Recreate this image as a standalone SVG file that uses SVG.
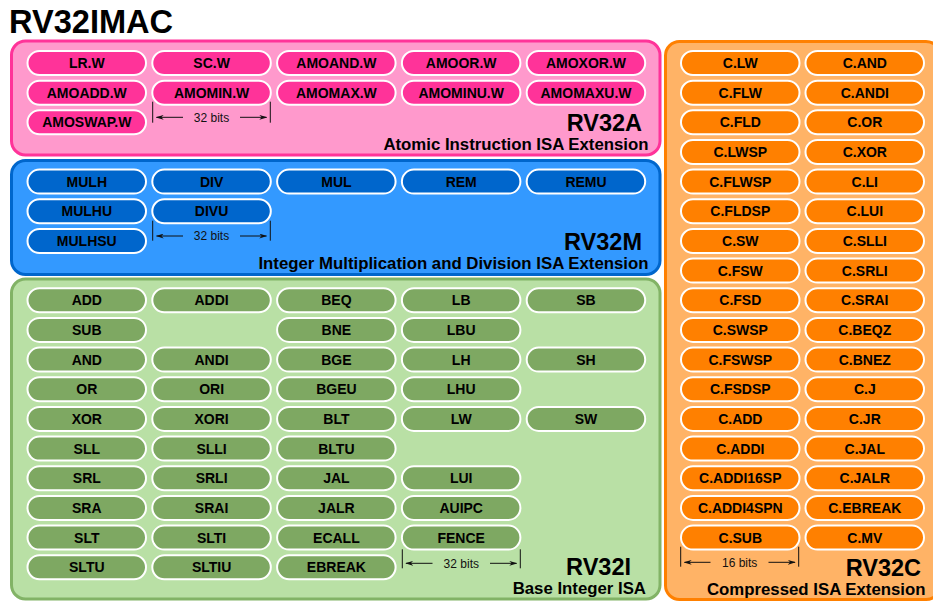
<svg xmlns="http://www.w3.org/2000/svg" width="933" height="602" viewBox="0 0 933 602">
  <defs>
    <style>
      .t { font-family: "Liberation Sans", Arial, sans-serif; font-weight: bold; font-size: 14px; text-anchor: middle; fill: #000; }
      .pill { stroke: #fff; stroke-width: 2; }
      .pa { fill: #ff3399; }
      .pm { fill: #0066cc; }
      .pi { fill: #7ea862; }
      .pc { fill: #ff8000; }
      .big { font-family: "Liberation Sans", Arial, sans-serif; font-weight: bold; font-size: 23.5px; text-anchor: end; fill: #000; }
      .sub { font-family: "Liberation Sans", Arial, sans-serif; font-weight: bold; font-size: 16.8px; text-anchor: end; fill: #000; }
      .bits { font-family: "Liberation Sans", Arial, sans-serif; font-size: 12px; text-anchor: middle; fill: #111; }
      .dim { stroke: #111; stroke-width: 1; fill: none; }
    </style>
    <marker id="ah" viewBox="0 0 10 6" refX="9" refY="3" markerWidth="8" markerHeight="5" markerUnits="userSpaceOnUse" orient="auto">
      <path d="M0,0 L10,3 L0,6 L3,3 z" fill="#111"/>
    </marker>
  </defs>

  <rect width="933" height="602" fill="#fff"/>

  <!-- title -->
  <text x="9" y="33" font-family="Liberation Sans, Arial, sans-serif" font-weight="bold" font-size="32.6">RV32IMAC</text>

  <!-- extension panels -->
  <g id="rv32a">
    <rect x="11.5" y="41" width="648.5" height="114" rx="14" fill="#ff99cc" stroke="#ff3399" stroke-width="3"/>
    <text class="big" x="642" y="131">RV32A</text>
    <text class="sub" x="648.5" y="149.5">Atomic Instruction ISA Extension</text>
  </g>
  <g id="rv32m">
    <rect x="11.5" y="160.5" width="648.5" height="114" rx="14" fill="#3399ff" stroke="#0066cc" stroke-width="3"/>
    <text class="big" x="642" y="250">RV32M</text>
    <text class="sub" x="648.5" y="269">Integer Multiplication and Division ISA Extension</text>
  </g>
  <g id="rv32i">
    <rect x="11.5" y="279" width="648.5" height="320" rx="14" fill="#b9e0a5" stroke="#82b366" stroke-width="3"/>
    <text class="big" x="631" y="575">RV32I</text>
    <text class="sub" x="646" y="594">Base Integer ISA</text>
  </g>
  <g id="rv32c">
    <rect x="665.5" y="41.5" width="274.5" height="558" rx="14" fill="#ffb366" stroke="#ff8000" stroke-width="3"/>
    <text class="big" x="921" y="576">RV32C</text>
    <text class="sub" x="925.5" y="595">Compressed ISA Extension</text>
  </g>

  <!-- RV32A instructions -->
  <g id="a-lr-w"><rect class="pill pa" x="27.5" y="51" width="118.5" height="24" rx="12"/><text class="t" x="86.8" y="68">LR.W</text></g>
  <g id="a-sc-w"><rect class="pill pa" x="152.3" y="51" width="118.5" height="24" rx="12"/><text class="t" x="211.6" y="68">SC.W</text></g>
  <g id="a-amoand-w"><rect class="pill pa" x="277.1" y="51" width="118.5" height="24" rx="12"/><text class="t" x="336.4" y="68">AMOAND.W</text></g>
  <g id="a-amoor-w"><rect class="pill pa" x="401.9" y="51" width="118.5" height="24" rx="12"/><text class="t" x="461.2" y="68">AMOOR.W</text></g>
  <g id="a-amoxor-w"><rect class="pill pa" x="526.7" y="51" width="118.5" height="24" rx="12"/><text class="t" x="586" y="68">AMOXOR.W</text></g>
  <g id="a-amoadd-w"><rect class="pill pa" x="27.5" y="80.7" width="118.5" height="24" rx="12"/><text class="t" x="86.8" y="97.7">AMOADD.W</text></g>
  <g id="a-amomin-w"><rect class="pill pa" x="152.3" y="80.7" width="118.5" height="24" rx="12"/><text class="t" x="211.6" y="97.7">AMOMIN.W</text></g>
  <g id="a-amomax-w"><rect class="pill pa" x="277.1" y="80.7" width="118.5" height="24" rx="12"/><text class="t" x="336.4" y="97.7">AMOMAX.W</text></g>
  <g id="a-amominu-w"><rect class="pill pa" x="401.9" y="80.7" width="118.5" height="24" rx="12"/><text class="t" x="461.2" y="97.7">AMOMINU.W</text></g>
  <g id="a-amomaxu-w"><rect class="pill pa" x="526.7" y="80.7" width="118.5" height="24" rx="12"/><text class="t" x="586" y="97.7">AMOMAXU.W</text></g>
  <g id="a-amoswap-w"><rect class="pill pa" x="27.5" y="110.3" width="118.5" height="24" rx="12"/><text class="t" x="86.8" y="127.3">AMOSWAP.W</text></g>

  <!-- RV32M instructions -->
  <g id="m-mulh"><rect class="pill pm" x="27.5" y="169.6" width="118.5" height="24" rx="12"/><text class="t" x="86.8" y="186.6">MULH</text></g>
  <g id="m-div"><rect class="pill pm" x="152.3" y="169.6" width="118.5" height="24" rx="12"/><text class="t" x="211.6" y="186.6">DIV</text></g>
  <g id="m-mul"><rect class="pill pm" x="277.1" y="169.6" width="118.5" height="24" rx="12"/><text class="t" x="336.4" y="186.6">MUL</text></g>
  <g id="m-rem"><rect class="pill pm" x="401.9" y="169.6" width="118.5" height="24" rx="12"/><text class="t" x="461.2" y="186.6">REM</text></g>
  <g id="m-remu"><rect class="pill pm" x="526.7" y="169.6" width="118.5" height="24" rx="12"/><text class="t" x="586" y="186.6">REMU</text></g>
  <g id="m-mulhu"><rect class="pill pm" x="27.5" y="199.3" width="118.5" height="24" rx="12"/><text class="t" x="86.8" y="216.3">MULHU</text></g>
  <g id="m-divu"><rect class="pill pm" x="152.3" y="199.3" width="118.5" height="24" rx="12"/><text class="t" x="211.6" y="216.3">DIVU</text></g>
  <g id="m-mulhsu"><rect class="pill pm" x="27.5" y="229" width="118.5" height="24" rx="12"/><text class="t" x="86.8" y="246">MULHSU</text></g>

  <!-- RV32I instructions -->
  <g id="i-add"><rect class="pill pi" x="27.5" y="288.3" width="118.5" height="24" rx="12"/><text class="t" x="86.8" y="305.3">ADD</text></g>
  <g id="i-addi"><rect class="pill pi" x="152.3" y="288.3" width="118.5" height="24" rx="12"/><text class="t" x="211.6" y="305.3">ADDI</text></g>
  <g id="i-beq"><rect class="pill pi" x="277.1" y="288.3" width="118.5" height="24" rx="12"/><text class="t" x="336.4" y="305.3">BEQ</text></g>
  <g id="i-lb"><rect class="pill pi" x="401.9" y="288.3" width="118.5" height="24" rx="12"/><text class="t" x="461.2" y="305.3">LB</text></g>
  <g id="i-sb"><rect class="pill pi" x="526.7" y="288.3" width="118.5" height="24" rx="12"/><text class="t" x="586" y="305.3">SB</text></g>

  <g id="i-sub"><rect class="pill pi" x="27.5" y="317.9" width="118.5" height="24" rx="12"/><text class="t" x="86.8" y="334.9">SUB</text></g>
  <g id="i-bne"><rect class="pill pi" x="277.1" y="317.9" width="118.5" height="24" rx="12"/><text class="t" x="336.4" y="334.9">BNE</text></g>
  <g id="i-lbu"><rect class="pill pi" x="401.9" y="317.9" width="118.5" height="24" rx="12"/><text class="t" x="461.2" y="334.9">LBU</text></g>

  <g id="i-and"><rect class="pill pi" x="27.5" y="347.6" width="118.5" height="24" rx="12"/><text class="t" x="86.8" y="364.6">AND</text></g>
  <g id="i-andi"><rect class="pill pi" x="152.3" y="347.6" width="118.5" height="24" rx="12"/><text class="t" x="211.6" y="364.6">ANDI</text></g>
  <g id="i-bge"><rect class="pill pi" x="277.1" y="347.6" width="118.5" height="24" rx="12"/><text class="t" x="336.4" y="364.6">BGE</text></g>
  <g id="i-lh"><rect class="pill pi" x="401.9" y="347.6" width="118.5" height="24" rx="12"/><text class="t" x="461.2" y="364.6">LH</text></g>
  <g id="i-sh"><rect class="pill pi" x="526.7" y="347.6" width="118.5" height="24" rx="12"/><text class="t" x="586" y="364.6">SH</text></g>

  <g id="i-or"><rect class="pill pi" x="27.5" y="377.3" width="118.5" height="24" rx="12"/><text class="t" x="86.8" y="394.3">OR</text></g>
  <g id="i-ori"><rect class="pill pi" x="152.3" y="377.3" width="118.5" height="24" rx="12"/><text class="t" x="211.6" y="394.3">ORI</text></g>
  <g id="i-bgeu"><rect class="pill pi" x="277.1" y="377.3" width="118.5" height="24" rx="12"/><text class="t" x="336.4" y="394.3">BGEU</text></g>
  <g id="i-lhu"><rect class="pill pi" x="401.9" y="377.3" width="118.5" height="24" rx="12"/><text class="t" x="461.2" y="394.3">LHU</text></g>

  <g id="i-xor"><rect class="pill pi" x="27.5" y="406.9" width="118.5" height="24" rx="12"/><text class="t" x="86.8" y="423.9">XOR</text></g>
  <g id="i-xori"><rect class="pill pi" x="152.3" y="406.9" width="118.5" height="24" rx="12"/><text class="t" x="211.6" y="423.9">XORI</text></g>
  <g id="i-blt"><rect class="pill pi" x="277.1" y="406.9" width="118.5" height="24" rx="12"/><text class="t" x="336.4" y="423.9">BLT</text></g>
  <g id="i-lw"><rect class="pill pi" x="401.9" y="406.9" width="118.5" height="24" rx="12"/><text class="t" x="461.2" y="423.9">LW</text></g>
  <g id="i-sw"><rect class="pill pi" x="526.7" y="406.9" width="118.5" height="24" rx="12"/><text class="t" x="586" y="423.9">SW</text></g>

  <g id="i-sll"><rect class="pill pi" x="27.5" y="436.6" width="118.5" height="24" rx="12"/><text class="t" x="86.8" y="453.6">SLL</text></g>
  <g id="i-slli"><rect class="pill pi" x="152.3" y="436.6" width="118.5" height="24" rx="12"/><text class="t" x="211.6" y="453.6">SLLI</text></g>
  <g id="i-bltu"><rect class="pill pi" x="277.1" y="436.6" width="118.5" height="24" rx="12"/><text class="t" x="336.4" y="453.6">BLTU</text></g>

  <g id="i-srl"><rect class="pill pi" x="27.5" y="466.2" width="118.5" height="24" rx="12"/><text class="t" x="86.8" y="483.2">SRL</text></g>
  <g id="i-srli"><rect class="pill pi" x="152.3" y="466.2" width="118.5" height="24" rx="12"/><text class="t" x="211.6" y="483.2">SRLI</text></g>
  <g id="i-jal"><rect class="pill pi" x="277.1" y="466.2" width="118.5" height="24" rx="12"/><text class="t" x="336.4" y="483.2">JAL</text></g>
  <g id="i-lui"><rect class="pill pi" x="401.9" y="466.2" width="118.5" height="24" rx="12"/><text class="t" x="461.2" y="483.2">LUI</text></g>

  <g id="i-sra"><rect class="pill pi" x="27.5" y="495.9" width="118.5" height="24" rx="12"/><text class="t" x="86.8" y="512.9">SRA</text></g>
  <g id="i-srai"><rect class="pill pi" x="152.3" y="495.9" width="118.5" height="24" rx="12"/><text class="t" x="211.6" y="512.9">SRAI</text></g>
  <g id="i-jalr"><rect class="pill pi" x="277.1" y="495.9" width="118.5" height="24" rx="12"/><text class="t" x="336.4" y="512.9">JALR</text></g>
  <g id="i-auipc"><rect class="pill pi" x="401.9" y="495.9" width="118.5" height="24" rx="12"/><text class="t" x="461.2" y="512.9">AUIPC</text></g>

  <g id="i-slt"><rect class="pill pi" x="27.5" y="525.6" width="118.5" height="24" rx="12"/><text class="t" x="86.8" y="542.6">SLT</text></g>
  <g id="i-slti"><rect class="pill pi" x="152.3" y="525.6" width="118.5" height="24" rx="12"/><text class="t" x="211.6" y="542.6">SLTI</text></g>
  <g id="i-ecall"><rect class="pill pi" x="277.1" y="525.6" width="118.5" height="24" rx="12"/><text class="t" x="336.4" y="542.6">ECALL</text></g>
  <g id="i-fence"><rect class="pill pi" x="401.9" y="525.6" width="118.5" height="24" rx="12"/><text class="t" x="461.2" y="542.6">FENCE</text></g>

  <g id="i-sltu"><rect class="pill pi" x="27.5" y="555.2" width="118.5" height="24" rx="12"/><text class="t" x="86.8" y="572.2">SLTU</text></g>
  <g id="i-sltiu"><rect class="pill pi" x="152.3" y="555.2" width="118.5" height="24" rx="12"/><text class="t" x="211.6" y="572.2">SLTIU</text></g>
  <g id="i-ebreak"><rect class="pill pi" x="277.1" y="555.2" width="118.5" height="24" rx="12"/><text class="t" x="336.4" y="572.2">EBREAK</text></g>

  <!-- RV32C instructions -->
  <g id="c-lw"><rect class="pill pc" x="681" y="51" width="118.5" height="24" rx="12"/><text class="t" x="740.3" y="68">C.LW</text></g>
  <g id="c-and"><rect class="pill pc" x="805.5" y="51" width="118.5" height="24" rx="12"/><text class="t" x="864.8" y="68">C.AND</text></g>
  <g id="c-flw"><rect class="pill pc" x="681" y="80.7" width="118.5" height="24" rx="12"/><text class="t" x="740.3" y="97.7">C.FLW</text></g>
  <g id="c-andi"><rect class="pill pc" x="805.5" y="80.7" width="118.5" height="24" rx="12"/><text class="t" x="864.8" y="97.7">C.ANDI</text></g>
  <g id="c-fld"><rect class="pill pc" x="681" y="110.3" width="118.5" height="24" rx="12"/><text class="t" x="740.3" y="127.3">C.FLD</text></g>
  <g id="c-or"><rect class="pill pc" x="805.5" y="110.3" width="118.5" height="24" rx="12"/><text class="t" x="864.8" y="127.3">C.OR</text></g>
  <g id="c-lwsp"><rect class="pill pc" x="681" y="140" width="118.5" height="24" rx="12"/><text class="t" x="740.3" y="157">C.LWSP</text></g>
  <g id="c-xor"><rect class="pill pc" x="805.5" y="140" width="118.5" height="24" rx="12"/><text class="t" x="864.8" y="157">C.XOR</text></g>
  <g id="c-flwsp"><rect class="pill pc" x="681" y="169.6" width="118.5" height="24" rx="12"/><text class="t" x="740.3" y="186.6">C.FLWSP</text></g>
  <g id="c-li"><rect class="pill pc" x="805.5" y="169.6" width="118.5" height="24" rx="12"/><text class="t" x="864.8" y="186.6">C.LI</text></g>
  <g id="c-fldsp"><rect class="pill pc" x="681" y="199.3" width="118.5" height="24" rx="12"/><text class="t" x="740.3" y="216.3">C.FLDSP</text></g>
  <g id="c-lui"><rect class="pill pc" x="805.5" y="199.3" width="118.5" height="24" rx="12"/><text class="t" x="864.8" y="216.3">C.LUI</text></g>
  <g id="c-sw"><rect class="pill pc" x="681" y="229" width="118.5" height="24" rx="12"/><text class="t" x="740.3" y="246">C.SW</text></g>
  <g id="c-slli"><rect class="pill pc" x="805.5" y="229" width="118.5" height="24" rx="12"/><text class="t" x="864.8" y="246">C.SLLI</text></g>
  <g id="c-fsw"><rect class="pill pc" x="681" y="258.6" width="118.5" height="24" rx="12"/><text class="t" x="740.3" y="275.6">C.FSW</text></g>
  <g id="c-srli"><rect class="pill pc" x="805.5" y="258.6" width="118.5" height="24" rx="12"/><text class="t" x="864.8" y="275.6">C.SRLI</text></g>
  <g id="c-fsd"><rect class="pill pc" x="681" y="288.3" width="118.5" height="24" rx="12"/><text class="t" x="740.3" y="305.3">C.FSD</text></g>
  <g id="c-srai"><rect class="pill pc" x="805.5" y="288.3" width="118.5" height="24" rx="12"/><text class="t" x="864.8" y="305.3">C.SRAI</text></g>
  <g id="c-swsp"><rect class="pill pc" x="681" y="317.9" width="118.5" height="24" rx="12"/><text class="t" x="740.3" y="334.9">C.SWSP</text></g>
  <g id="c-beqz"><rect class="pill pc" x="805.5" y="317.9" width="118.5" height="24" rx="12"/><text class="t" x="864.8" y="334.9">C.BEQZ</text></g>
  <g id="c-fswsp"><rect class="pill pc" x="681" y="347.6" width="118.5" height="24" rx="12"/><text class="t" x="740.3" y="364.6">C.FSWSP</text></g>
  <g id="c-bnez"><rect class="pill pc" x="805.5" y="347.6" width="118.5" height="24" rx="12"/><text class="t" x="864.8" y="364.6">C.BNEZ</text></g>
  <g id="c-fsdsp"><rect class="pill pc" x="681" y="377.3" width="118.5" height="24" rx="12"/><text class="t" x="740.3" y="394.3">C.FSDSP</text></g>
  <g id="c-j"><rect class="pill pc" x="805.5" y="377.3" width="118.5" height="24" rx="12"/><text class="t" x="864.8" y="394.3">C.J</text></g>
  <g id="c-add"><rect class="pill pc" x="681" y="406.9" width="118.5" height="24" rx="12"/><text class="t" x="740.3" y="423.9">C.ADD</text></g>
  <g id="c-jr"><rect class="pill pc" x="805.5" y="406.9" width="118.5" height="24" rx="12"/><text class="t" x="864.8" y="423.9">C.JR</text></g>
  <g id="c-addi"><rect class="pill pc" x="681" y="436.6" width="118.5" height="24" rx="12"/><text class="t" x="740.3" y="453.6">C.ADDI</text></g>
  <g id="c-jal"><rect class="pill pc" x="805.5" y="436.6" width="118.5" height="24" rx="12"/><text class="t" x="864.8" y="453.6">C.JAL</text></g>
  <g id="c-addi16sp"><rect class="pill pc" x="681" y="466.2" width="118.5" height="24" rx="12"/><text class="t" x="740.3" y="483.2">C.ADDI16SP</text></g>
  <g id="c-jalr"><rect class="pill pc" x="805.5" y="466.2" width="118.5" height="24" rx="12"/><text class="t" x="864.8" y="483.2">C.JALR</text></g>
  <g id="c-addi4spn"><rect class="pill pc" x="681" y="495.9" width="118.5" height="24" rx="12"/><text class="t" x="740.3" y="512.9">C.ADDI4SPN</text></g>
  <g id="c-ebreak"><rect class="pill pc" x="805.5" y="495.9" width="118.5" height="24" rx="12"/><text class="t" x="864.8" y="512.9">C.EBREAK</text></g>
  <g id="c-sub"><rect class="pill pc" x="681" y="525.6" width="118.5" height="24" rx="12"/><text class="t" x="740.3" y="542.6">C.SUB</text></g>
  <g id="c-mv"><rect class="pill pc" x="805.5" y="525.6" width="118.5" height="24" rx="12"/><text class="t" x="864.8" y="542.6">C.MV</text></g>

  <!-- width dimension markers -->
  <g id="dimensions">
    <g id="dim-a">
      <path class="dim" d="M152.7,101.7 V122.7 M270.3,101.7 V122.7"/>
      <line class="dim" x1="183" y1="117.3" x2="156.5" y2="117.3" marker-end="url(#ah)"/>
      <line class="dim" x1="240" y1="117.3" x2="266.5" y2="117.3" marker-end="url(#ah)"/>
      <text class="bits" x="211.5" y="121.5">32 bits</text>
    </g>
    <g id="dim-m">
      <path class="dim" d="M152.7,220.7 V240.7 M270.3,220.7 V240.7"/>
      <line class="dim" x1="183" y1="236" x2="156.5" y2="236" marker-end="url(#ah)"/>
      <line class="dim" x1="240" y1="236" x2="266.5" y2="236" marker-end="url(#ah)"/>
      <text class="bits" x="211.5" y="240.2">32 bits</text>
    </g>
    <g id="dim-i">
      <path class="dim" d="M402.3,549.3 V568.3 M520.3,549.3 V568.3"/>
      <line class="dim" x1="432.5" y1="563.3" x2="406" y2="563.3" marker-end="url(#ah)"/>
      <line class="dim" x1="490" y1="563.3" x2="516.5" y2="563.3" marker-end="url(#ah)"/>
      <text class="bits" x="461.3" y="567.5">32 bits</text>
    </g>
    <g id="dim-c">
      <path class="dim" d="M680.7,546.7 V566.7 M798.7,546.7 V566.7"/>
      <line class="dim" x1="710.5" y1="562.3" x2="684.5" y2="562.3" marker-end="url(#ah)"/>
      <line class="dim" x1="768.5" y1="562.3" x2="795" y2="562.3" marker-end="url(#ah)"/>
      <text class="bits" x="739.7" y="566.5">16 bits</text>
    </g>
  </g>
</svg>
